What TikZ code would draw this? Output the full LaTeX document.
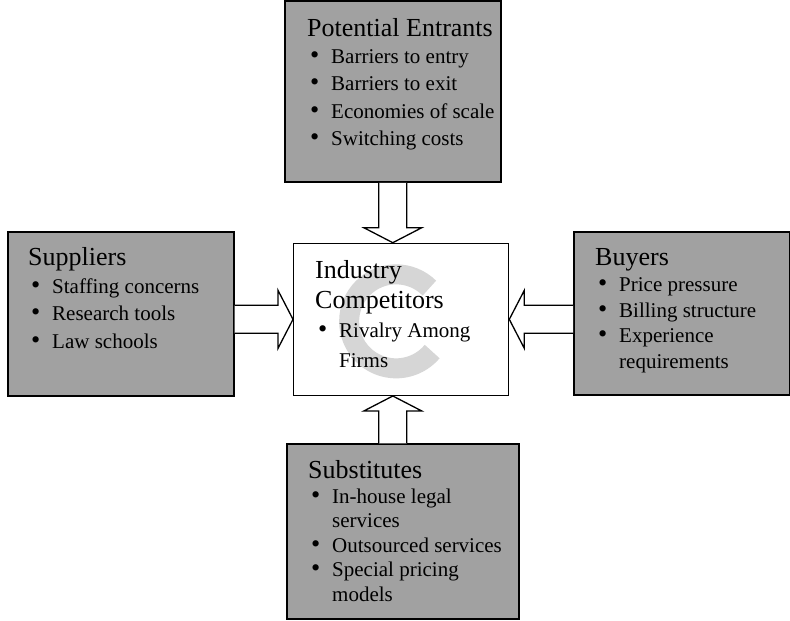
\documentclass[tikz,border=0pt]{standalone}
\usepackage{fontspec}
\setmainfont{Liberation Serif}
\usepackage{tikz}
\usetikzlibrary{calc}
\usetikzlibrary{positioning}
\tikzset{panel/.style={draw=black, line width=1.6pt, fill=black!37, inner sep=0pt, anchor=south west}}
\tikzset{core/.style={draw=black, line width=1.3pt, fill=white, inner sep=0pt, anchor=south west}}
\tikzset{txt/.style={anchor=north west, inner sep=0pt, align=left, font=\fontsize{21}{#1}\selectfont}}
\tikzset{fat/.style={draw=black, line width=1.3pt, fill=white, line join=miter}}
\tikzset{swirl/.style={draw=black!16, line width=20pt}}
\newcommand{\bul}{\makebox[24pt][l]{\hspace{3pt}\scalebox{1.25}{\textbullet}}}
\newcommand{\cnt}{\hspace*{24pt}}
\newcommand{\hd}[1]{{\fontsize{26}{27}\selectfont\rule{0pt}{20pt}#1}}
\newcommand{\fatarrow}[2]{
    \coordinate (nk) at ($(#2)!15pt!(#1)$);
    \draw[fat] ($(#1)!14pt!90:(#2)$) -- ($(nk)!14pt!90:(#2)$)
        -- ($(nk)!29pt!90:(#2)$) -- (#2) -- ($(nk)!29pt!-90:(#2)$)
        -- ($(nk)!14pt!-90:(#2)$) -- ($(#1)!14pt!-90:(#2)$);
}

\begin{document}
\begin{tikzpicture}[x=1pt,y=1pt]
        \useasboundingbox (0,0) rectangle (790,621);

        \node[panel, minimum width=216, minimum height=181] (ent) at (284,438) {};
        \node[panel, minimum width=226, minimum height=164] (sup) at (7,224) {};
        \node[panel, minimum width=216, minimum height=163] (buy) at (573,225) {};
        \node[core, minimum width=215, minimum height=152] (ind) at (293,225) {};
        \node[panel, minimum width=232, minimum height=175] (sub) at (286,1) {};

        \draw[swirl] ($(ind.center)+(-5,-2)+(45:47)$) arc[start angle=45, end angle=320, radius=47];

        \fatarrow{ent.south}{ent.south |- ind.north}
        \fatarrow{sub.north -| ent.south}{ind.south -| ent.south}
        \fatarrow{sup.east |- ind.west}{ind.west}
        \fatarrow{buy.west |- ind.east}{ind.east}

        \node[txt=27.2, below right=16 and 23 of ent.north west] (entx)
            {\hd{Potential Entrants}\\
            \bul Barriers to entry\\
            \bul Barriers to exit\\
            \bul Economies of scale\\
            \bul Switching costs};
        \node[txt=27.7, below right=14 and 21 of sup.north west] (supx)
            {\hd{Suppliers}\\
            \bul Staffing concerns\\
            \bul Research tools\\
            \bul Law schools};
        \node[txt=25.8, below right=14 and 22 of buy.north west] (buyx)
            {\hd{Buyers}\\
            \bul Price pressure\\
            \bul Billing structure\\
            \bul Experience\\
            \cnt requirements};
        \node[txt=29.5, below right=16 and 22 of ind.north west] (indx)
            {\hd{Industry}\\
            \hd{Competitors}\\
            \bul Rivalry Among\\
            \cnt Firms};
        \node[txt=24.6, below right=15 and 22 of sub.north west] (subx)
            {\hd{Substitutes}\\
            \bul In-house legal\\
            \cnt services\\
            \bul Outsourced services\\
            \bul Special pricing\\
            \cnt models};
\end{tikzpicture}
\end{document}
